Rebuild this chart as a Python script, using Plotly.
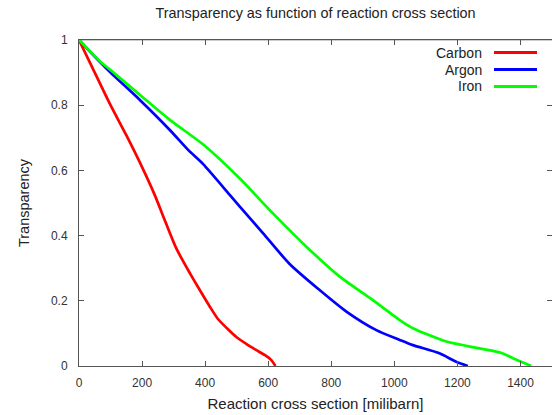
import plotly.graph_objects as go

series_names = ["Carbon", "Argon", "Iron"]
series_colors = ["#ff0000", "#0000ff", "#00ff00"]

carbon_x = [0, 35, 100, 150, 200, 240, 275, 309, 352, 383, 415, 440, 470, 500, 530, 560, 590, 610, 623]
carbon_y = [1, 0.93, 0.80, 0.708, 0.61, 0.525, 0.44, 0.36, 0.284, 0.233, 0.182, 0.145, 0.115, 0.088, 0.068, 0.05, 0.033, 0.018, 0]

argon_x = [0, 66, 100, 193, 288, 346, 393, 478, 510, 584, 668, 763, 848, 943, 1017, 1059, 1143, 1196, 1233]
argon_y = [1, 0.933, 0.90, 0.816, 0.724, 0.663, 0.62, 0.525, 0.489, 0.407, 0.313, 0.233, 0.167, 0.11, 0.08, 0.064, 0.039, 0.013, 0]

iron_x = [0, 66, 100, 200, 288, 393, 510, 615, 721, 827, 932, 1017, 1059, 1165, 1270, 1340, 1376, 1410, 1434]
iron_y = [1, 0.935, 0.908, 0.826, 0.755, 0.68, 0.575, 0.468, 0.366, 0.274, 0.202, 0.141, 0.116, 0.075, 0.054, 0.04, 0.024, 0.01, 0]

x_ticks = [0, 200, 400, 600, 800, 1000, 1200, 1400]
y_ticks = [0, 0.2, 0.4, 0.6, 0.8, 1]
y_tick_labels = ["0", "0.2", "0.4", "0.6", "0.8", "1"]

title_text = "Transparency as function of reaction cross section"
x_title = "Reaction cross section [milibarn]"
y_title = "Transparency"

data = [(carbon_x, carbon_y), (argon_x, argon_y), (iron_x, iron_y)]

fig = go.Figure()
for (xs, ys), name, col in zip(data, series_names, series_colors):
    fig.add_trace(go.Scatter(x=xs, y=ys, mode="lines", name=name,
                             line=dict(color=col, width=2.7, shape="spline", smoothing=0.7),
                             showlegend=False))

font = "Liberation Sans, Arial, sans-serif"

# plot area in pixels: x 79..552, y 40..366
def px_x(p):
    return (p - 79) / 473

def px_y(p):
    return (366 - p) / 326

# manual legend (text on left, line sample on right)
leg_y_px = [52.5, 69.5, 86.5]
for name, col, ypx in zip(series_names, series_colors, leg_y_px):
    yp = px_y(ypx)
    fig.add_annotation(xref="paper", yref="paper", x=px_x(484), y=yp,
                       text=name, showarrow=False, xanchor="right", yanchor="middle",
                       font=dict(family=font, size=14, color="#222222"))
    fig.add_shape(type="line", xref="paper", yref="paper",
                  x0=px_x(494), x1=px_x(537), y0=yp, y1=yp,
                  line=dict(color=col, width=3))

# lighter top border as in the reference
fig.add_shape(type="line", xref="paper", yref="paper", x0=0, x1=1, y0=1, y1=1,
              line=dict(color="#9a9a9a", width=1), layer="below")

fig.update_layout(
    width=552, height=415,
    margin=dict(l=79, r=0, t=40, b=49),
    paper_bgcolor="white", plot_bgcolor="white",
    font=dict(family=font, color="#333333"),
    title=dict(text=title_text, x=0.5, xref="paper", xanchor="center",
               y=1 - 12.5 / 415, yref="container", yanchor="middle",
               font=dict(size=14.4, color="#222222")),
)

fig.update_xaxes(
    range=[0, 1500], tickvals=x_ticks, ticks="inside", ticklen=5, tickcolor="#555555",
    showline=True, linecolor="#555555", linewidth=1, mirror="ticks", showgrid=False,
    zeroline=False, tickfont=dict(size=12, color="#333333"), ticklabelstandoff=6,
    title=dict(text=x_title, font=dict(size=15, color="#222222"), standoff=9),
)
fig.update_yaxes(
    range=[0, 1], tickvals=y_ticks, ticktext=y_tick_labels, ticks="inside", ticklen=5,
    tickcolor="#555555", showline=True, linecolor="#555555", linewidth=1, mirror="ticks",
    showgrid=False, zeroline=False, tickfont=dict(size=12, color="#333333"),
    ticklabelstandoff=8,
    title=dict(text=y_title, font=dict(size=14.5, color="#222222"), standoff=17),
)

fig.write_html("out.html")
